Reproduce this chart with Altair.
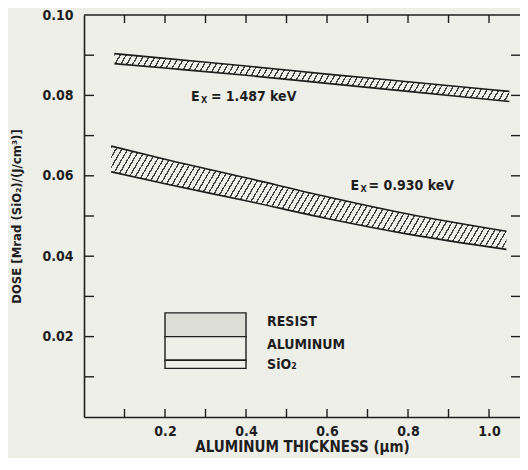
import altair as alt
import numpy as np
import pandas as pd

FONT = "Liberation Sans Narrow, DejaVu Sans Condensed, Arial Narrow, sans-serif"
INK = "#1e1e1e"
BG = "#efefea"

# ---- data ----
x_upper = [0.075, 0.2, 0.4, 0.6, 0.8, 1.05]
upper_hi = [0.0904, 0.0892, 0.0873, 0.0853, 0.0834, 0.0810]
upper_lo = [0.0879, 0.0868, 0.0850, 0.0830, 0.0810, 0.0785]

x_lower = [0.067, 0.2, 0.4, 0.6, 0.8, 1.043]
lower_hi = [0.0674, 0.0641, 0.0595, 0.0548, 0.0505, 0.0462]
lower_lo = [0.0610, 0.0580, 0.0538, 0.0494, 0.0455, 0.0417]

x_tick_labels = [0.2, 0.4, 0.6, 0.8, 1.0]
y_tick_labels = [0.02, 0.04, 0.06, 0.08, 0.10]
x_minor = [0.1, 0.2, 0.3, 0.4, 0.5, 0.6, 0.7, 0.8, 0.9, 1.0]
y_minor = [0.01, 0.02, 0.03, 0.04, 0.05, 0.06, 0.07, 0.08, 0.09]

legend_labels = ["RESIST", "ALUMINUM", "SiO₂"]
legend_top = [0.0259, 0.0200, 0.0141]
legend_bot = [0.0200, 0.0141, 0.0121]
legend_fill = ["#deded8", BG, BG]
legend_text_y = [0.0237, 0.0180, 0.0130]
legend_x0, legend_x1, legend_text_x = 0.2, 0.4, 0.452

W, H = 436, 402
XDOM = [0, 1.0765]
YDOM = [0, 0.10]

xs = alt.Scale(domain=XDOM, nice=False, zero=False)
ys = alt.Scale(domain=YDOM, nice=False, zero=False)


def hatch(w_px, h_px, slope=1.7, spacing=6.0, frac=0.25, dark="#404040", light=BG):
    vx, vy = slope / h_px, 1.0 / w_px
    s = (vx + vy) / (vx * vx + vy * vy)
    dt = spacing / w_px * vx / (vx + vy)
    n = int(round(1 / dt))
    stops = []
    for k in range(n):
        a = k / n
        b = (k + frac) / n
        c = (k + 1) / n
        stops += [{"offset": a, "color": dark},
                  {"offset": b, "color": dark},
                  {"offset": b, "color": light},
                  {"offset": c, "color": light}]
    return {"gradient": "linear", "stops": stops,
            "x1": 0, "y1": 0, "x2": float(s * vx), "y2": float(s * vy)}


up = pd.DataFrame({"x": x_upper, "hi": upper_hi, "lo": upper_lo})
lo = pd.DataFrame({"x": x_lower, "hi": lower_hi, "lo": lower_lo})


def band(df, grad):
    base = alt.Chart(df)
    area = base.mark_area(interpolate="monotone", fill=grad).encode(
        x=alt.X("x:Q", scale=xs), y=alt.Y("hi:Q", scale=ys), y2="lo:Q")
    l1 = base.mark_line(interpolate="monotone", color=INK, strokeWidth=1.6).encode(
        x=alt.X("x:Q", scale=xs), y=alt.Y("hi:Q", scale=ys))
    l2 = base.mark_line(interpolate="monotone", color=INK, strokeWidth=1.6).encode(
        x=alt.X("x:Q", scale=xs), y=alt.Y("lo:Q", scale=ys))
    return [area, l1, l2]


layers = []
# axes carrying labels and domain lines
axis_layer = alt.Chart(pd.DataFrame({"v": x_tick_labels})).mark_point(opacity=0).encode(
    x=alt.X("v:Q", scale=xs, title="ALUMINUM THICKNESS (μm)",
            axis=alt.Axis(values=x_tick_labels, format=".1f", ticks=False, grid=False,
                          domainColor=INK, domainWidth=1.6, labelPadding=7,
                          titlePadding=1, titleFontSize=15)),
    y=alt.Y("v:Q", scale=ys, title="DOSE [Mrad (SiO₂)/(J/cm³)]",
            axis=alt.Axis(values=y_tick_labels, format=".2f", ticks=False, grid=False,
                          domainColor=INK, domainWidth=1.6, labelPadding=11,
                          titlePadding=18, titleFontSize=13)))
layers.append(axis_layer)
layers += band(up, hatch(400, 48))
layers += band(lo, hatch(398, 104))

# inward ticks
ydf = pd.DataFrame({"v": y_minor})
xdf = pd.DataFrame({"v": x_minor})
layers.append(alt.Chart(ydf).mark_rule(color=INK, strokeWidth=1.4).encode(
    y=alt.Y("v:Q", scale=ys), x=alt.value(0), x2=alt.value(10)))
layers.append(alt.Chart(ydf).mark_rule(color=INK, strokeWidth=1.4).encode(
    y=alt.Y("v:Q", scale=ys), x=alt.value(W - 9), x2=alt.value(W)))
layers.append(alt.Chart(xdf).mark_rule(color=INK, strokeWidth=1.4).encode(
    x=alt.X("v:Q", scale=xs), y=alt.value(H), y2=alt.value(H - 8)))
layers.append(alt.Chart(xdf).mark_rule(color=INK, strokeWidth=1.4).encode(
    x=alt.X("v:Q", scale=xs), y=alt.value(0), y2=alt.value(8)))
# top frame line
layers.append(alt.Chart(pd.DataFrame({"a": [0]})).mark_rule(color=INK, strokeWidth=1.6).encode(
    x=alt.value(0), x2=alt.value(W), y=alt.value(0)))

# legend key
leg = pd.DataFrame({"label": legend_labels, "top": legend_top, "bot": legend_bot,
                    "fill": legend_fill, "ty": legend_text_y,
                    "x0": [legend_x0] * 3, "x1": [legend_x1] * 3, "tx": [legend_text_x] * 3})
layers.append(alt.Chart(leg).mark_rect(stroke=INK, strokeWidth=1.4).encode(
    x=alt.X("x0:Q", scale=xs), x2="x1:Q", y=alt.Y("top:Q", scale=ys), y2="bot:Q",
    fill=alt.Fill("fill:N", scale=None)))
layers.append(alt.Chart(leg).mark_text(align="left", baseline="middle", font=FONT,
                                       fontWeight="bold", fontSize=14, color=INK).encode(
    x=alt.X("tx:Q", scale=xs), y=alt.Y("ty:Q", scale=ys), text="label:N"))

# energy annotations
ann = [
    (0.264, 0.0797, "= 1.487 keV", 10, 20),
    (0.658, 0.0574, "= 0.930 keV", 10, 18),
]
for ax, ay, rest, dxx, dxr in ann:
    d = pd.DataFrame({"x": [ax], "y": [ay], "e": ["E"], "s": ["X"], "r": [rest]})
    b = alt.Chart(d)
    layers.append(b.mark_text(align="left", baseline="middle", font=FONT, fontWeight="bold",
                              fontSize=14, color=INK).encode(
        x=alt.X("x:Q", scale=xs), y=alt.Y("y:Q", scale=ys), text="e:N"))
    layers.append(b.mark_text(align="left", baseline="middle", font=FONT, fontWeight="bold",
                              fontSize=9, color=INK, dx=dxx, dy=3).encode(
        x=alt.X("x:Q", scale=xs), y=alt.Y("y:Q", scale=ys), text="s:N"))
    layers.append(b.mark_text(align="left", baseline="middle", font=FONT, fontWeight="bold",
                              fontSize=14, color=INK, dx=dxr).encode(
        x=alt.X("x:Q", scale=xs), y=alt.Y("y:Q", scale=ys), text="r:N"))

chart = alt.layer(*layers).properties(
    width=W, height=H,
    autosize=alt.AutoSizeParams(type="none"),
    padding={"left": 76, "top": 7, "right": 0, "bottom": 41},
    background=BG,
).configure_view(stroke=None).configure_axis(
    labelFont=FONT, labelFontSize=14, labelFontWeight="bold", labelColor=INK,
    titleFont=FONT, titleFontWeight="bold", titleColor=INK,
)

chart.save("out.html", embed_options={"renderer": "svg", "actions": False})
